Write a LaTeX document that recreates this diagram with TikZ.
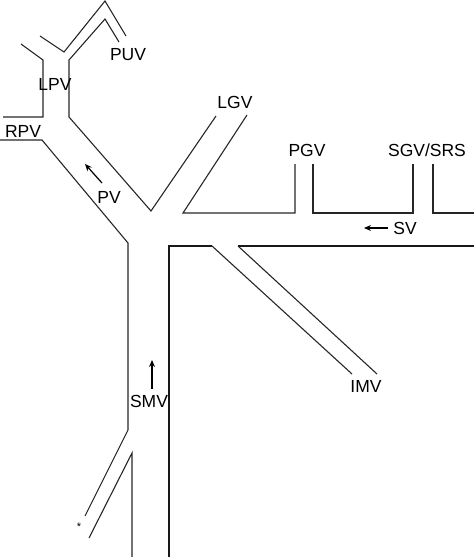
\documentclass[tikz,border=0pt]{standalone}
\usepackage{fontspec}
\setmainfont{Liberation Sans}
\usepackage{tikz}
\usetikzlibrary{arrows.meta}

\begin{document}
\begin{tikzpicture}[
    x=1pt, y=-1pt,
    font=\fontsize{17.5}{19}\selectfont,
    wall/.style={line width=1.1pt, color=black!85},
    heavywall/.style={line width=1.6pt, color=black!90},
    flow/.style={line width=1.2pt, -{Stealth[length=7pt, width=6pt]}},
    lbl/.style={inner sep=0pt}
]
\useasboundingbox (0,0) rectangle (474,557);

% Portal vein, left wall (RPV -> PV -> SMV)
\draw[wall] (0,140) -- (42,140) -- (128,243) -- (128,430) -- (85,516);
\draw[wall] (89,538) -- (132,453) -- (132,557);

% Left portal vein and umbilical part
\draw[wall] (21,44) -- (43,60) -- (43,117) -- (3,117);
\draw[wall] (40,36) -- (64,52) -- (105,1) -- (126,36);
\draw[wall] (119,42) -- (105,19) -- (69,60) -- (69,117) -- (151,211) -- (216,116);

% Gastric veins along the splenic vein
\draw[wall] (247,115) -- (183,213) -- (295,213) -- (295,164);
\draw[wall] (313,164) -- (313,213) -- (413,213) -- (413,164);
\draw[wall] (433,164) -- (433,213) -- (474,213);

% SMV right wall, splenic vein lower wall and IMV
\draw[heavywall] (169,557) -- (169,246) -- (212,246);
\draw[wall] (212,246) -- (352,374);
\draw[wall] (377,374) -- (238,246);
\draw[heavywall] (238,246) -- (474,246);

% Labels
\node[lbl] (puv) at (128,55) {PUV};
\node[lbl] (lpv) at (55,84) {LPV};
\node[lbl] (rpv) at (23,131) {RPV};
\node[lbl] (pv) at (109,197) {PV};
\node[lbl] (lgv) at (235,102) {LGV};
\node[lbl] (pgv) at (307,150) {PGV};
\node[lbl] (sgv) at (427,150) {SGV/SRS};
\node[lbl] (sv) at (405,228) {SV};
\node[lbl] (imv) at (366,386) {IMV};
\node[lbl] (smv) at (149,401) {SMV};
\node[lbl, font=\fontsize{11}{12}\selectfont] (star) at (79,527) {*};

% Flow direction
\coordinate (pvtail) at (102,183);
\coordinate (pvhead) at (85,164);
\draw[flow] (pvtail) -- (pvhead);
\coordinate (smvtail) at (152,389);
\coordinate (smvhead) at (152,360);
\draw[flow] (smvtail) -- (smvhead);
\coordinate (svtail) at (388,228);
\coordinate (svhead) at (364,228);
\draw[flow] (svtail) -- (svhead);

\end{tikzpicture}
\end{document}
